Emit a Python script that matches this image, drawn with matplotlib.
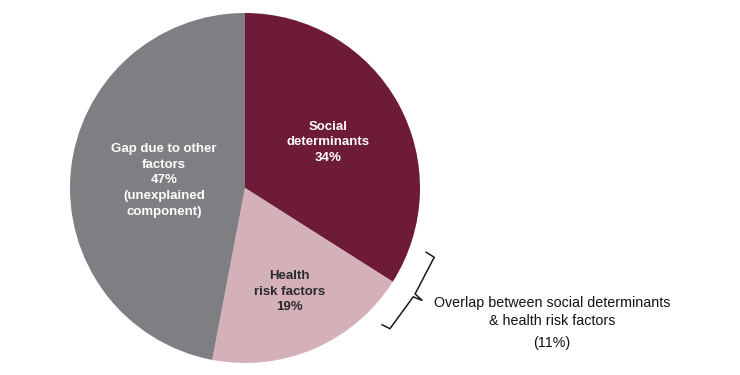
import numpy as np
import matplotlib.pyplot as plt

plt.rcParams['font.family'] = ['Liberation Sans', 'DejaVu Sans']

# Share of the gap, clockwise from 12 o'clock
labels = ['Social\ndeterminants\n34%',
          'Health\nrisk factors\n19%',
          'Gap due to other\nfactors\n47%\n(unexplained\ncomponent)']
shares = [34, 19, 47]
colors = ['#6E1A39', '#D4B0B8', '#7F7F83']
text_colors = ['white', '#2a2a2a', 'white']
label_r = [0.54, 0.645, 0.465]

overlap_text = 'Overlap between social determinants\n& health risk factors'
overlap_pct = '(11%)'

fig = plt.figure(figsize=(7.4, 3.75), dpi=100)
ax = fig.add_axes([0, 0, 1, 1])

wedges, _ = ax.pie(shares, colors=colors, startangle=90, counterclock=False,
                   radius=1, wedgeprops=dict(linewidth=0))

for w, lab, tc, r in zip(wedges, labels, text_colors, label_r):
    mid = np.deg2rad((w.theta1 + w.theta2) / 2)
    ax.text(r * np.cos(mid), r * np.sin(mid), lab, ha='center', va='center',
            color=tc, fontsize=9.5, fontweight='bold', linespacing=1.42)

# bracket over the social / health boundary
b = np.deg2rad(wedges[0].theta1)
rad = np.array([np.cos(b), np.sin(b)])
tan = np.array([-np.sin(b), np.cos(b)])
pts = [(1.07, 0.245), (1.125, 0.245), (1.145, 0.01), (1.20, 0.0),
       (1.145, -0.01), (1.13, -0.235), (1.08, -0.24)]
xy = np.array([rr * rad + tt * tan for rr, tt in pts])
ax.plot(xy[:, 0], xy[:, 1], color='#1a1a1a', lw=1.1, solid_joinstyle='miter')

ax.text(1.754, -0.71, overlap_text, ha='center', va='center',
        fontsize=10.3, color='#111111', linespacing=1.35)
ax.text(1.754, -0.883, overlap_pct, ha='center', va='center',
        fontsize=10.3, color='#111111')

ax.set_xlim(-245 / 175, 495 / 175)
ax.set_ylim(-187 / 175, 188 / 175)
ax.set_aspect('equal')
ax.axis('off')

fig.savefig('out.png', dpi=100)
